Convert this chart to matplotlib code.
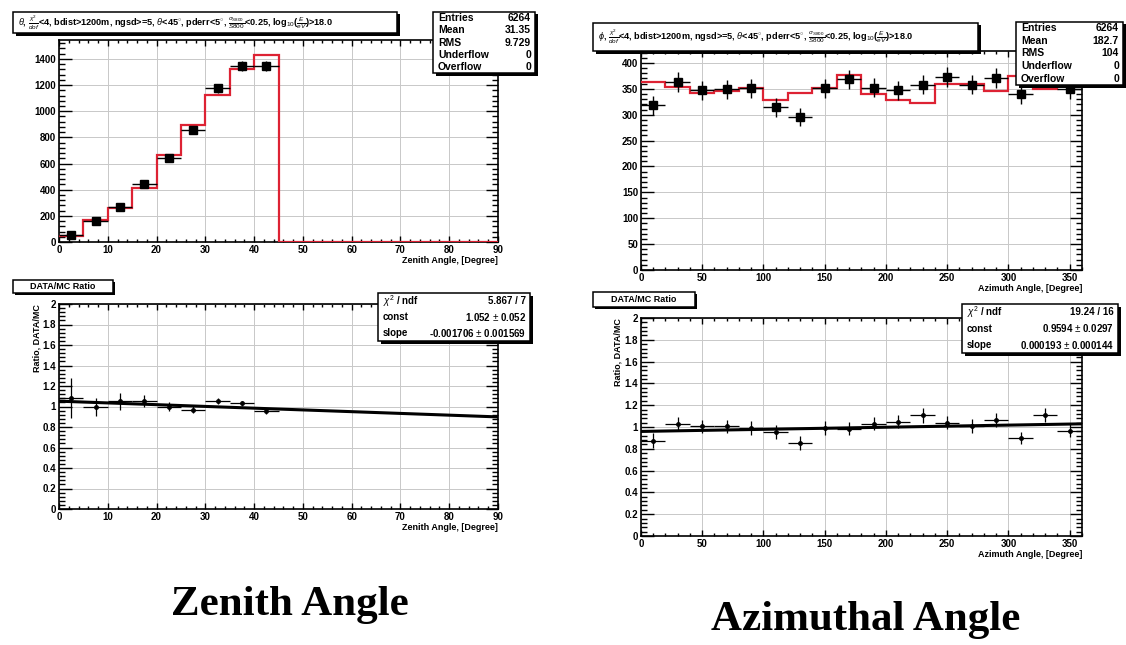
import numpy as np
import matplotlib
matplotlib.use("Agg")
import matplotlib.pyplot as plt
from matplotlib.patches import Rectangle
from matplotlib.ticker import MultipleLocator, FormatStrFormatter

plt.rcParams['font.family'] = ['Liberation Sans', 'DejaVu Sans']
plt.rcParams['mathtext.fontset'] = 'custom'
plt.rcParams['mathtext.rm'] = 'Liberation Sans'
plt.rcParams['mathtext.it'] = 'Liberation Sans:italic'

# zenith angle, 5 degree bins
zen_edges = np.arange(0, 95, 5)
zen_data = [51, 158, 267, 443, 646, 855, 1176, 1346, 1346]
zen_mc = [48, 165, 260, 412, 662, 893, 1125, 1323, 1430, 0, 0, 0, 0, 0, 0, 0, 0, 0]
zen_ratio = [1.083, 0.995, 1.05, 1.057, 1.0, 0.97, 1.05, 1.03, 0.953]
zen_ratio_err = [0.195, 0.085, 0.08, 0.057, 0.04, 0.035, 0.03, 0.028, 0.028]
zen_const, zen_slope = 1.052, -0.001706
zen_stats = [("Entries", "6264"), ("Mean", "31.35"), ("RMS", "9.729"),
             ("Underflow", "0"), ("Overflow", "0")]
zen_fitbox = [(r"$\chi^2$ / ndf", "5.867 / 7"), ("const", r"1.052 $\pm$ 0.052"),
              ("slope", r"-0.001706 $\pm$ 0.001569")]

# azimuth angle, 20 degree bins
azi_edges = np.arange(0, 380, 20)
azi_data = [318, 363, 347, 349, 351, 314, 296, 351, 368, 352, 347, 358, 373, 358,
            371, 339, 388, 349]
azi_mc = [364, 353, 342, 345, 352, 329, 342, 351, 376, 340, 329, 322, 359, 360,
          345, 375, 350, 361]
azi_ratio = [0.876, 1.03, 1.006, 1.006, 0.99, 0.958, 0.853, 0.99, 0.984, 1.03, 1.05,
             1.107, 1.04, 1.01, 1.065, 0.90, 1.11, 0.964]
azi_ratio_err = [0.065, 0.065, 0.062, 0.062, 0.062, 0.064, 0.063, 0.062, 0.06, 0.062,
                 0.063, 0.066, 0.06, 0.062, 0.062, 0.058, 0.062, 0.06]
azi_const, azi_slope = 0.9594, 0.000193
azi_stats = [("Entries", "6264"), ("Mean", "182.7"), ("RMS", "104"),
             ("Underflow", "0"), ("Overflow", "0")]
azi_fitbox = [(r"$\chi^2$ / ndf", "19.24 / 16"), ("const", r"0.9594 $\pm$ 0.0297"),
              ("slope", r"0.000193 $\pm$ 0.000144")]

cut_text = (r", $\frac{\chi^2}{dof}$<4, bdist>1200m, ngsd>=5, $\theta$<45$^{\circ}$, "
            r"pderr<5$^{\circ}$, $\frac{\sigma_{S800}}{S800}$<0.25, "
            r"log$_{10}$($\frac{E}{eV}$)>18.0")

W, H = 1126, 645
RED = '#dd2233'
fig = plt.figure(figsize=(W / 100, H / 100), dpi=100)


def px_axes(x0, y0, x1, y1):
    return fig.add_axes([x0 / W, 1 - y1 / H, (x1 - x0) / W, (y1 - y0) / H])


def root_box(x0, y0, x1, y1, sh=2.5):
    fig.add_artist(Rectangle(((x0 + sh) / W, 1 - (y1 + sh) / H), (x1 - x0) / W,
                             (y1 - y0) / H, transform=fig.transFigure,
                             facecolor='black', lw=0, zorder=10))
    fig.add_artist(Rectangle((x0 / W, 1 - y1 / H), (x1 - x0) / W, (y1 - y0) / H,
                             transform=fig.transFigure, facecolor='white',
                             edgecolor='black', lw=1.1, zorder=11))


def table_box(x0, y0, x1, y1, rows, size=7.5):
    root_box(x0, y0, x1, y1)
    step = (y1 - y0) / len(rows)
    for i, (k, v) in enumerate(rows):
        yc = 1 - (y0 + (i + 0.5) * step) / H
        fig.text((x0 + 5) / W, yc, k, fontsize=size, weight='bold', va='center',
                 ha='left', zorder=12)
        fig.text((x1 - 4) / W, yc, v, fontsize=size, weight='bold', va='center',
                 ha='right', zorder=12)


def style(ax, xmax, xmaj, xmin_, ymax, ymaj, ymin_):
    ax.set_xlim(0, xmax)
    ax.set_ylim(0, ymax)
    ax.xaxis.set_major_locator(MultipleLocator(xmaj))
    ax.xaxis.set_minor_locator(MultipleLocator(xmin_))
    ax.yaxis.set_major_locator(MultipleLocator(ymaj))
    ax.yaxis.set_minor_locator(MultipleLocator(ymin_))
    ax.xaxis.set_major_formatter(FormatStrFormatter('%g'))
    ax.yaxis.set_major_formatter(FormatStrFormatter('%g'))
    ax.grid(True, which='major', color='#c8c8c8', lw=0.7)
    ax.set_axisbelow(True)
    ax.tick_params(which='both', direction='in', top=True, right=True,
                   labelsize=7, pad=2, width=1)
    ax.tick_params(axis='y', which='major', length=9)
    ax.tick_params(axis='y', which='minor', length=4.5)
    ax.tick_params(axis='x', which='major', length=4.5)
    ax.tick_params(axis='x', which='minor', length=2.5)
    for lab in ax.get_xticklabels() + ax.get_yticklabels():
        lab.set_fontweight('bold')
    for s in ax.spines.values():
        s.set_linewidth(1.2)


def hist_panel(box, edges, mc, data, xmax, xmaj, xmin_, ymax, ymaj, ymin_, xlabel):
    ax = px_axes(*box)
    edges = np.asarray(edges)
    nd = len(data)
    centers = (edges[:-1] + edges[1:])[:nd] / 2
    half = (edges[1] - edges[0]) / 2
    ax.stairs(mc, edges, baseline=None, color=RED, lw=1.6, zorder=3)
    ax.errorbar(centers, data, xerr=half, yerr=np.sqrt(data), fmt='s', color='black',
                ms=5.5, elinewidth=1, capsize=0, zorder=4)
    style(ax, xmax, xmaj, xmin_, ymax, ymaj, ymin_)
    ax.set_xlabel(xlabel, fontsize=6.5, weight='bold', loc='right', labelpad=1)
    return ax


def ratio_panel(box, edges, ratio, err, const, slope, xmax, xmaj, xmin_, xlabel):
    ax = px_axes(*box)
    edges = np.asarray(edges)
    nd = len(ratio)
    centers = (edges[:-1] + edges[1:])[:nd] / 2
    half = (edges[1] - edges[0]) / 2
    ax.errorbar(centers, ratio, xerr=half, yerr=err, fmt='o', color='black', ms=2.5,
                elinewidth=0.9, capsize=0, zorder=4)
    xs = np.array([0, xmax])
    ax.plot(xs, const + slope * xs, color='black', lw=2.2, zorder=5)
    style(ax, xmax, xmaj, xmin_, 2, 0.2, 0.04)
    ax.set_xlabel(xlabel, fontsize=6.5, weight='bold', loc='right', labelpad=1)
    return ax


# top row: distributions
hist_panel((59, 40, 498, 242), zen_edges, zen_mc, zen_data, 90, 10, 2, 1545, 200, 40,
           "Zenith Angle, [Degree]")
hist_panel((641, 51, 1082, 270), azi_edges, azi_mc, azi_data, 360, 50, 10, 423, 50, 10,
           "Azimuth Angle, [Degree]")

# bottom row: data/MC ratios
ratio_panel((59, 304, 498, 509), zen_edges, zen_ratio, zen_ratio_err, zen_const,
            zen_slope, 90, 10, 2, "Zenith Angle, [Degree]")
ratio_panel((641, 318, 1082, 536), azi_edges, azi_ratio, azi_ratio_err, azi_const,
            azi_slope, 360, 50, 10, "Azimuth Angle, [Degree]")

fig.text(37 / W, 1 - 304 / H, "Ratio, DATA/MC", rotation=90, fontsize=6.5,
         weight='bold', ha='center', va='top')
fig.text(618 / W, 1 - 318 / H, "Ratio, DATA/MC", rotation=90, fontsize=6.5,
         weight='bold', ha='center', va='top')

# title boxes
root_box(13, 12, 397, 33)
fig.text(18 / W, 1 - 22.5 / H, r"$\theta$" + cut_text, fontsize=6.6, weight='bold',
         ha='left', va='center', zorder=12)
root_box(593, 23, 978, 51)
fig.text(598 / W, 1 - 37 / H, r"$\phi$" + cut_text, fontsize=6.6, weight='bold',
         ha='left', va='center', zorder=12)

table_box(433, 12, 535, 73, zen_stats)
table_box(1016, 22, 1123, 85, azi_stats)

for (x0, y0, x1, y1) in [(13, 280, 113, 293), (593, 292, 695, 307)]:
    root_box(x0, y0, x1, y1, sh=2)
    fig.text((x0 + x1) / 2 / W, 1 - (y0 + y1) / 2 / H, "DATA/MC Ratio", fontsize=6.5,
             weight='bold', ha='center', va='center', zorder=12)

table_box(378, 293, 530, 341, zen_fitbox, size=7)
table_box(962, 304, 1118, 353, azi_fitbox, size=7)

fig.text(290 / W, 1 - 605 / H, "Zenith Angle", family='Liberation Serif',
         weight='bold', fontsize=31, ha='center', va='center')
fig.text(866 / W, 1 - 620 / H, "Azimuthal Angle", family='Liberation Serif',
         weight='bold', fontsize=31, ha='center', va='center')

fig.savefig("out.png", dpi=100)
